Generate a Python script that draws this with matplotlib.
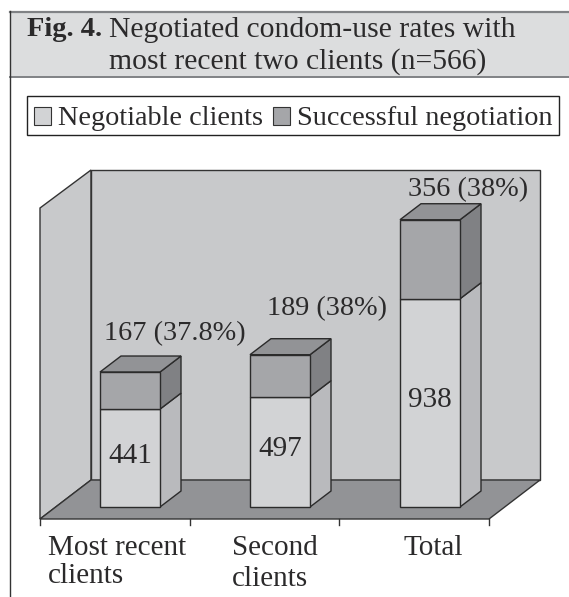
import matplotlib
matplotlib.use("Agg")
import matplotlib.pyplot as plt
from matplotlib.patches import Polygon, Rectangle, Patch

categories = [["Most recent", "clients"], ["Second", "clients"], ["Total"]]
negotiable = [441, 497, 938]
successful = [167, 189, 356]
top_labels = ["167 (37.8%)", "189 (38%)", "356 (38%)"]
legend_names = ["Negotiable clients", "Successful negotiation"]

W, H = 569, 597
INK = "#2b2a2b"
plt.rcParams["font.family"] = "Liberation Serif"

fig = plt.figure(figsize=(W / 100, H / 100), dpi=100, facecolor="white")

# backdrop axes works in pixels
bg = fig.add_axes([0, 0, 1, 1])
bg.set_xlim(0, W)
bg.set_ylim(H, 0)
bg.axis("off")

bg.add_patch(Rectangle((10, 11), W - 10, 66, fc="#dcddde", ec="none"))
bg.plot([10, W], [11.5, 11.5], color="#808285", lw=1.6)
bg.plot([10, W], [76.5, 76.5], color="#808285", lw=1.4)
bg.plot([10, 10], [11, H], color="#333333", lw=1.0)

bg.text(27, 30, "Fig. 4.", fontsize=20.5, fontweight="bold", color=INK, va="center")
bg.text(109, 30, "Negotiated condom-use rates with", fontsize=21.3, color=INK, va="center")
bg.text(109, 62, "most recent two clients (n=566)", fontsize=21.3, color=INK, va="center")

# legend frame, the legend itself sits a bit low in it
bg.add_patch(Rectangle((27, 96), 532, 39, fc="white", ec="#222222", lw=1))

# walls and floor of the 3d box
bg.add_patch(Polygon([(40, 208), (91, 170), (91, 480), (40, 519)], fc="#c8c9cb", ec="#333333", lw=1))
bg.add_patch(Rectangle((91, 170), 449, 310, fc="#c8c9cb", ec="#333333", lw=1))
bg.add_patch(Polygon([(40, 519), (91, 480), (540, 480), (489, 519)], fc="#929396", ec="#333333", lw=1))
for px in [40, 190, 339, 489]:
    bg.plot([px, px], [519, 525], color="#333333", lw=1)

# bars are drawn in value units
ax = fig.add_axes([0, 0, 1, 1], facecolor="none")
px_per_unit = 0.222
step = 150
ax.set_xlim((0 - 130) / step, (W - 130) / step)
ax.set_ylim((507 - H) / px_per_unit, 507 / px_per_unit)
ax.axis("off")

bar_w = 0.4
dx = 21 / step
dy = 16 / px_per_unit
EDGE = "#2b2b2b"


def side(x, y0, y1, color):
    ax.add_patch(Polygon([(x, y0), (x + dx, y0 + dy), (x + dx, y1 + dy), (x, y1)],
                         fc=color, ec=EDGE, lw=1, zorder=2))


for i in range(3):
    a = negotiable[i]
    b = a + successful[i]
    left = i - bar_w / 2
    right = i + bar_w / 2
    side(right, 0, a, "#b9babd")
    side(right, a, b, "#808184")
    ax.add_patch(Polygon([(left, b), (left + dx, b + dy), (right + dx, b + dy), (right, b)],
                         fc="#929396", ec=EDGE, lw=1, zorder=2))
    ax.bar(i, a, width=bar_w, color="#d2d3d5", edgecolor=EDGE, linewidth=1, zorder=3)
    ax.bar(i, successful[i], bottom=a, width=bar_w, color="#a5a6a9", edgecolor=EDGE, linewidth=1, zorder=3)
    ax.text(i, a / 2 + 11, str(a), fontsize=21, color=INK, ha="center", va="center", zorder=4)

bg.text(175, 334, top_labels[0], fontsize=20.3, color=INK, ha="center", va="center")
bg.text(327, 309, top_labels[1], fontsize=20.3, color=INK, ha="center", va="center")
bg.text(468, 190, top_labels[2], fontsize=20.3, color=INK, ha="center", va="center")

label_x = [48, 232, 404]
for i, lines in enumerate(categories):
    for j, line in enumerate(lines):
        bg.text(label_x[i], 548 + 28 * j + (3 * j if i == 1 else 0), line, fontsize=21, color=INK, va="center")

handles = [Patch(fc="#d2d3d5", ec="#333333", lw=0.8), Patch(fc="#a5a6a9", ec="#333333", lw=0.8)]
fig.legend(handles, legend_names, ncol=2, loc="center left", bbox_to_anchor=(27 / W, 1 - 119 / H),
           fontsize=20.3, frameon=False, borderpad=0.25, handlelength=0.6, handleheight=0.6,
           handletextpad=0.25, columnspacing=0.35, borderaxespad=0, labelcolor=INK)

fig.savefig("out.png", dpi=100)
